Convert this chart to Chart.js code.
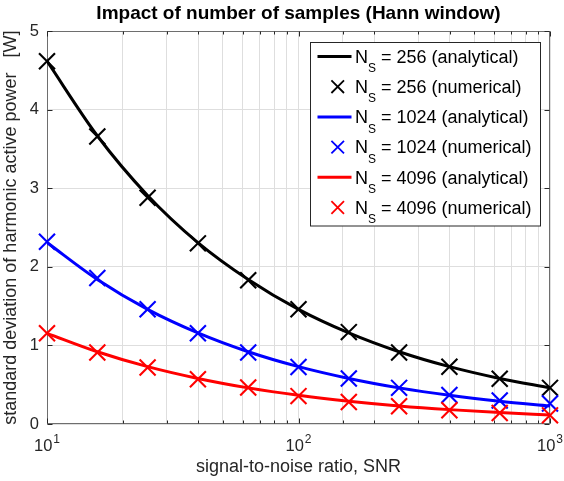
<!DOCTYPE html>
<html>
<head>
<meta charset="utf-8">
<script src="https://cdn.jsdelivr.net/npm/chart.js@4/dist/chart.umd.min.js"></script>
<style>
  html, body { margin: 0; padding: 0; background: #fff; }
  #wrap { width: 564px; height: 481px; }
</style>
</head>
<body>
<div id="wrap"><canvas id="chart" width="564" height="481"></canvas></div>
<script>
// SNR values where the numerical simulations were run
const snr = [10, 15.85, 25.12, 39.81, 63.1, 100, 158.5, 251.2, 398.1, 631, 1000];

// standard deviation of harmonic active power [W]
const ana256 = [4.62, 3.67, 2.91, 2.31, 1.84, 1.46, 1.16, 0.92, 0.73, 0.58, 0.46];
const num256 = [4.62, 3.66, 2.88, 2.30, 1.83, 1.46, 1.17, 0.91, 0.73, 0.575, 0.46];
const ana1024 = [2.31, 1.84, 1.46, 1.16, 0.92, 0.73, 0.58, 0.46, 0.365, 0.29, 0.23];
const num1024 = [2.32, 1.86, 1.46, 1.155, 0.91, 0.725, 0.58, 0.46, 0.37, 0.30, 0.26];
const ana4096 = [1.155, 0.92, 0.73, 0.58, 0.46, 0.365, 0.29, 0.23, 0.183, 0.145, 0.115];
const num4096 = [1.155, 0.91, 0.72, 0.57, 0.465, 0.355, 0.28, 0.225, 0.175, 0.14, 0.11];

const seriesLabels = [
  "N_S = 256 (analytical)", "N_S = 256 (numerical)",
  "N_S = 1024 (analytical)", "N_S = 1024 (numerical)",
  "N_S = 4096 (analytical)", "N_S = 4096 (numerical)",
];
const seriesColors = ["#000000", "#000000", "#0000ff", "#0000ff", "#ff0000", "#ff0000"];

// x tick labels drawn as base + superscript exponent
const xTickValues = [10, 100, 1000];
const xTickBase = ["10", "10", "10"];
const xTickExp = ["1", "2", "3"];

const FONT = "'Liberation Sans', Arial, Helvetica, sans-serif";
const TEXT = "#262626";

function pts(ys) {
  return snr.map((x, i) => ({ x: x, y: ys[i] }));
}

function analytical(i, ys) {
  return {
    label: seriesLabels[i],
    data: pts(ys),
    borderColor: seriesColors[i],
    borderWidth: 3,
    pointRadius: 0,
    cubicInterpolationMode: "monotone",
    order: 10 - i,
  };
}

function numerical(i, ys) {
  return {
    label: seriesLabels[i],
    data: pts(ys),
    showLine: false,
    borderColor: seriesColors[i],
    backgroundColor: seriesColors[i],
    pointStyle: "crossRot",
    pointRadius: 11.3,
    pointBorderWidth: 2.1,
    pointHoverRadius: 11.3,
    clip: false,
    order: 10 - i,
  };
}

// box around the axes + inward tick marks + x tick labels, like matlab
const axesBox = {
  id: "axesBox",
  beforeDatasetsDraw(chart) {
    const { ctx, chartArea: a, scales } = chart;
    const l = Math.round(a.left) + 0.5, r = Math.round(a.right) - 0.5;
    const t = Math.round(a.top) + 0.5, b = Math.round(a.bottom) - 0.5;
    ctx.save();
    ctx.strokeStyle = "#6e6e6e";
    ctx.lineWidth = 1;
    ctx.strokeRect(l, t, r - l, b - t);
    ctx.strokeStyle = TEXT;
    ctx.beginPath();
    scales.y.ticks.forEach((tk) => {
      const y = Math.round(scales.y.getPixelForValue(tk.value)) + 0.5;
      ctx.moveTo(l, y); ctx.lineTo(l + 5, y);
      ctx.moveTo(r, y); ctx.lineTo(r - 5, y);
    });
    scales.x.ticks.forEach((tk) => {
      const x = Math.round(scales.x.getPixelForValue(tk.value)) + 0.5;
      const len = xTickValues.includes(tk.value) ? 5 : 3;
      ctx.moveTo(x, b); ctx.lineTo(x, b - len);
      ctx.moveTo(x, t); ctx.lineTo(x, t + len);
    });
    ctx.stroke();

    ctx.fillStyle = TEXT;
    ctx.textAlign = "left";
    ctx.textBaseline = "alphabetic";
    xTickValues.forEach((v, i) => {
      const x = scales.x.getPixelForValue(v);
      ctx.font = "16.5px " + FONT;
      const wb = ctx.measureText(xTickBase[i]).width;
      ctx.font = "12px " + FONT;
      const we = ctx.measureText(xTickExp[i]).width;
      const x0 = x - (wb + we + 1) / 2;
      ctx.font = "16.5px " + FONT;
      ctx.fillText(xTickBase[i], x0, a.bottom + 27);
      ctx.font = "12px " + FONT;
      ctx.fillText(xTickExp[i], x0 + wb + 1, a.bottom + 19.3);
    });
    ctx.restore();
  },
};

// legend with subscript S
const subLegend = {
  id: "subLegend",
  afterDraw(chart) {
    const { ctx, chartArea: a } = chart;
    const w = 230, h = 183.5, rowH = 30.2;
    const left = Math.round(a.right - 10.5 - w) + 0.5;
    const top = Math.round(a.top + 10.7) + 0.5;
    ctx.save();
    ctx.fillStyle = "#ffffff";
    ctx.fillRect(left, top, w, h);
    ctx.strokeStyle = "#262626";
    ctx.lineWidth = 1;
    ctx.strokeRect(left, top, w, h);

    chart.data.datasets.forEach((ds, i) => {
      const cy = top + 14 + i * rowH;
      ctx.strokeStyle = ds.borderColor;
      if (ds.showLine === false) {
        const cx = left + 27.2, s = 6.3;
        ctx.lineWidth = 1.8;
        ctx.beginPath();
        ctx.moveTo(cx - s, cy - s); ctx.lineTo(cx + s, cy + s);
        ctx.moveTo(cx - s, cy + s); ctx.lineTo(cx + s, cy - s);
        ctx.stroke();
      } else {
        ctx.lineWidth = 3;
        ctx.beginPath();
        ctx.moveTo(left + 7, cy); ctx.lineTo(left + 41, cy);
        ctx.stroke();
      }
      const parts = ds.label.split("_S");
      const base = cy + 6.3;
      let x = left + 44.5;
      ctx.fillStyle = "#000000";
      ctx.textAlign = "left";
      ctx.textBaseline = "alphabetic";
      ctx.font = "18px " + FONT;
      ctx.fillText(parts[0], x, base);
      x += ctx.measureText(parts[0]).width;
      ctx.font = "12px " + FONT;
      ctx.fillText("S", x, base + 9.3);
      x += ctx.measureText("S").width;
      ctx.font = "18px " + FONT;
      ctx.fillText(parts[1], x, base);
    });
    ctx.restore();
  },
};

new Chart(document.getElementById("chart").getContext("2d"), {
  type: "line",
  data: {
    datasets: [
      analytical(0, ana256),
      numerical(1, num256),
      analytical(2, ana1024),
      numerical(3, num1024),
      analytical(4, ana4096),
      numerical(5, num4096),
    ],
  },
  options: {
    responsive: false,
    animation: false,
    events: [],
    layout: { padding: { left: 0, right: 14, top: 0, bottom: 0 } },
    plugins: {
      legend: { display: false },
      tooltip: { enabled: false },
      title: {
        display: true,
        text: "Impact of number of samples (Hann window)",
        color: "#000000",
        fullSize: false,
        font: { family: FONT, size: 19, weight: "bold" },
        padding: { top: 2.5, bottom: 6 },
      },
    },
    scales: {
      x: {
        type: "logarithmic",
        min: 10,
        max: 1000,
        afterFit: (s) => { s.height = 57; },
        grid: { color: "#dedede", drawTicks: false },
        border: { display: false },
        ticks: { display: false, autoSkip: false },
        title: {
          display: true,
          text: "signal-to-noise ratio, SNR",
          color: TEXT,
          font: { family: FONT, size: 18 },
          padding: { top: 3, bottom: 3 },
        },
      },
      y: {
        min: 0,
        max: 5,
        afterFit: (s) => { s.width = 47; },
        grid: { color: "#dedede", drawTicks: false },
        border: { display: false },
        ticks: {
          stepSize: 1,
          padding: 8,
          color: TEXT,
          font: { family: FONT, size: 16.5 },
        },
        title: {
          display: true,
          text: "standard deviation of harmonic active power   [W]",
          color: TEXT,
          font: { family: FONT, size: 18 },
          padding: { top: 0, bottom: 0 },
        },
      },
    },
  },
  plugins: [axesBox, subLegend],
});
</script>
</body>
</html>
